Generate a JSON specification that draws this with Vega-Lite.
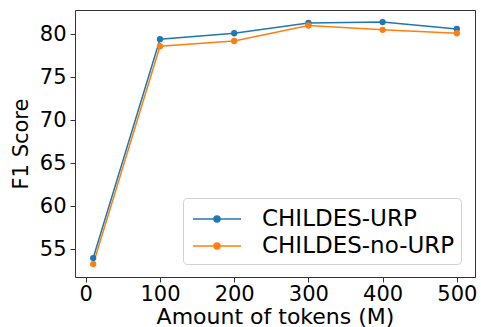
{
  "$schema": "https://vega.github.io/schema/vega-lite/v6.json",
  "width": 400,
  "height": 267,
  "autosize": "none",
  "padding": {"left": 75, "top": 10, "right": 6, "bottom": 50},
  "background": "white",
  "config": {
    "font": "DejaVu Sans",
    "view": {"stroke": "#333333", "strokeWidth": 1},
    "axis": {
      "grid": false,
      "domain": false,
      "tickColor": "#333333",
      "tickSize": 5,
      "labelFontSize": 21,
      "labelColor": "black",
      "titleFontSize": 21,
      "titleFontWeight": "normal",
      "titleColor": "black"
    }
  },
  "data": {
    "values": [
      {"tokens": 10, "f1": 54.0, "model": "CHILDES-URP"},
      {"tokens": 100, "f1": 79.4, "model": "CHILDES-URP"},
      {"tokens": 200, "f1": 80.1, "model": "CHILDES-URP"},
      {"tokens": 300, "f1": 81.3, "model": "CHILDES-URP"},
      {"tokens": 400, "f1": 81.4, "model": "CHILDES-URP"},
      {"tokens": 500, "f1": 80.6, "model": "CHILDES-URP"},
      {"tokens": 10, "f1": 53.3, "model": "CHILDES-no-URP"},
      {"tokens": 100, "f1": 78.6, "model": "CHILDES-no-URP"},
      {"tokens": 200, "f1": 79.2, "model": "CHILDES-no-URP"},
      {"tokens": 300, "f1": 81.0, "model": "CHILDES-no-URP"},
      {"tokens": 400, "f1": 80.5, "model": "CHILDES-no-URP"},
      {"tokens": 500, "f1": 80.1, "model": "CHILDES-no-URP"}
    ]
  },
  "mark": {"type": "line", "strokeWidth": 1.5, "point": {"filled": true, "size": 40, "opacity": 1}},
  "encoding": {
    "x": {
      "field": "tokens",
      "type": "quantitative",
      "scale": {"domain": [-14.5, 524.5], "nice": false, "zero": false},
      "axis": {
        "values": [0, 100, 200, 300, 400, 500],
        "title": "Amount of tokens (M)",
        "labelFontSize": 21,
        "labelPadding": 1,
        "titleFontSize": 22,
        "titleBaseline": "alphabetic",
        "titleY": 46
      }
    },
    "y": {
      "field": "f1",
      "type": "quantitative",
      "scale": {"domain": [51.8, 82.8], "nice": false, "zero": false},
      "axis": {"values": [55, 60, 65, 70, 75, 80], "title": "F1 Score", "labelPadding": 4, "titlePadding": 8}
    },
    "color": {
      "field": "model",
      "type": "nominal",
      "scale": {"domain": ["CHILDES-URP", "CHILDES-no-URP"], "range": ["#1f77b4", "#ff7f0e"]},
      "legend": {
        "title": null,
        "orient": "none",
        "legendX": 108,
        "legendY": 188,
        "padding": 6,
        "rowPadding": 0,
        "fillColor": "rgba(255,255,255,0.8)",
        "strokeColor": "#d0d0d0",
        "cornerRadius": 4,
        "labelFontSize": 23,
        "labelColor": "black",
        "labelOffset": 43,
        "labelLimit": 300,
        "symbolSize": 784,
        "symbolStrokeWidth": 1.5,
        "symbolType": "M-0.786,0L2.643,0M0.715,0A0.214,0.214 0 1,0 1.143,0A0.214,0.214 0 1,0 0.715,0",
        "symbolOpacity": 1,
        "encode": {
          "symbols": {"update": {"fill": {"scale": "color", "field": "value"}, "fillOpacity": {"value": 1}}}
        }
      }
    }
  }
}
